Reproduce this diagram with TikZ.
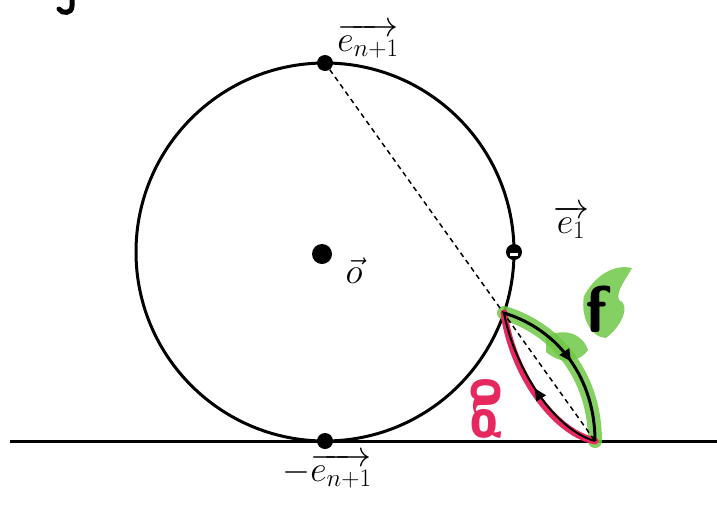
\RequirePackage{fix-cm}
\documentclass[tikz,border=0pt]{standalone}
\usepackage{graphicx}
\usetikzlibrary{decorations.markings,arrows.meta}
\definecolor{fgreen}{RGB}{110,200,70}
\definecolor{gred}{RGB}{230,40,95}
\begin{document}
\begin{tikzpicture}[x=1pt,y=-1pt,
  curve/.style={line width=3pt, draw=black},
  dotpt/.style={circle, fill=black, inner sep=0pt, minimum size=16pt},
  lbl/.style={font=\fontsize{36}{38}\selectfont, inner sep=0pt},
  midarrow/.style={postaction={decorate, decoration={markings,
      mark=at position #1 with {\arrow{Triangle[length=12pt,width=11pt]}}}}},
]
\useasboundingbox (0,0) rectangle (717,507);
% fragment at top-left
\draw[line width=5pt, line cap=round] (72,-2) -- (72,6) .. controls (72,14) and (62,14) .. (59,9);
% circle
\coordinate (C) at (325,252);
\draw[curve] (C) circle[radius=189];
% ground
\coordinate (G0) at (10,441);
\coordinate (G1) at (717,441);
\draw[line width=3pt] (G0) -- (G1);
% points
\node[dotpt] (N) at (325,63) {};
\node[dotpt] (S) at (325,441) {};
\node[dotpt, minimum size=20pt] (O) at (322,254) {};
\node[dotpt] (E1) at (514,252) {};
\fill[white] (510,253) rectangle (518,256);
\coordinate (P) at (595,441);
\coordinate (Q) at (504,313);
% green highlights
\draw[fgreen, line width=14pt, line cap=round, opacity=0.85]
  (Q) .. controls (560,330) and (595,380) .. (P);
\fill[fgreen, opacity=0.85] (546,336) .. controls (565,328) and (582,333) .. (588,350)
  .. controls (578,364) and (560,364) .. (546,352) -- cycle;
\fill[fgreen, opacity=0.85] (584,296) .. controls (596,274) and (615,264) .. (632,268)
  .. controls (624,282) and (616,292) .. (619,300)
  .. controls (630,304) and (624,324) .. (606,338)
  .. controls (592,338) and (580,318) .. (584,296) -- cycle;
% red highlight
\draw[gred, line width=7pt, line cap=round]
  (P) .. controls (553,432) and (512,372) .. (Q);
% dashed line
\draw[dashed, line width=1.5pt, dash pattern=on 5pt off 4pt] (N) -- (P);
% arcs f and g
\draw[curve, midarrow=0.5] (Q) .. controls (560,330) and (595,380) .. (P);
\draw[line width=2pt, midarrow=0.5] (P) .. controls (555,430) and (515,370) .. (Q);
% labels
\node[lbl] (lN) at (368,41) {$\overrightarrow{e_{n+1}}$};
\node[lbl] (lE1) at (571,222) {$\overrightarrow{e_1}$};
\node[lbl] (lO) at (354,271) {$\vec{o}$};
\node[lbl] (lS) at (327,471) {$-\overrightarrow{e_{n+1}}$};
\node[font=\fontsize{66}{66}\sffamily\bfseries, inner sep=0pt] (lf) at (597,309) {f};
\node[font=\fontsize{60}{60}\sffamily\bfseries, text=gred, inner sep=0pt] (lg) at (486,409) {\scalebox{1}[-1.45]{g}};
\end{tikzpicture}
\end{document}
